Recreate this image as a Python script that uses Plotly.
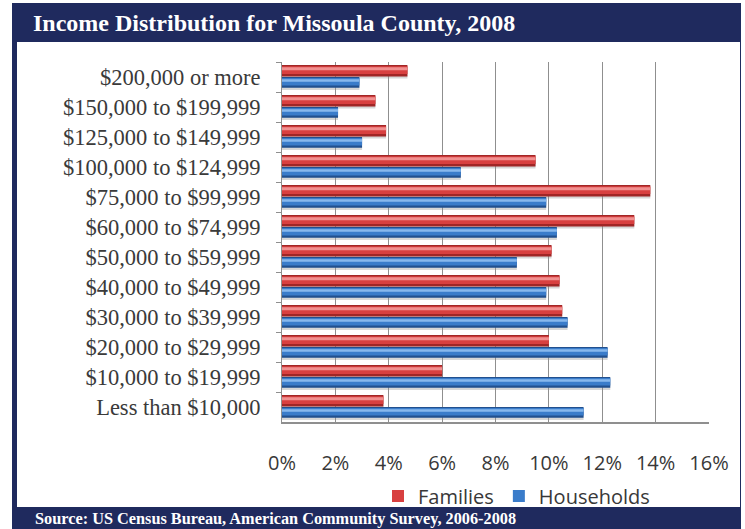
import plotly.graph_objects as go

# Income brackets, listed top to bottom
categories = [
    "$200,000 or more",
    "$150,000 to $199,999",
    "$125,000 to $149,999",
    "$100,000 to $124,999",
    "$75,000 to $99,999",
    "$60,000 to $74,999",
    "$50,000 to $59,999",
    "$40,000 to $49,999",
    "$30,000 to $39,999",
    "$20,000 to $29,999",
    "$10,000 to $19,999",
    "Less than $10,000",
]

# Share of each group in the bracket (percent)
families = [4.7, 3.5, 3.9, 9.5, 13.8, 13.2, 10.1, 10.4, 10.5, 10.0, 6.0, 3.8]
households = [2.9, 2.1, 3.0, 6.7, 9.9, 10.3, 8.8, 9.9, 10.7, 12.2, 12.3, 11.3]

x_ticks = [0, 2, 4, 6, 8, 10, 12, 14, 16]
x_tick_labels = [f"{v}%" for v in x_ticks]

W, H = 745, 529
L, R, T, B = 282, 36, 62, 107
PW, PH = W - L - R, H - T - B


def px_x(p):
    return (p - L) / PW


def px_y(p):
    return (H - B - p) / PH


NAVY = "#1f2a5e"

fig = go.Figure()

# Each bar is a stack of overlaid layers giving a rounded, cylinder look
def add_cylinder(values, name, off, wid, dark, main, light, legend):
    fig.add_trace(go.Bar(
        y=categories, x=values, orientation="h",
        offset=off + 0.07, width=wid,
        marker=dict(color="rgba(140,140,140,0.35)", line=dict(width=0)),
        showlegend=False, hoverinfo="skip",
    ))
    fig.add_trace(go.Bar(
        y=categories, x=values, orientation="h",
        offset=off, width=wid,
        marker=dict(color=dark, line=dict(width=0)),
        showlegend=False, hoverinfo="skip",
    ))
    fig.add_trace(go.Bar(
        y=categories, x=values, orientation="h", name=name,
        offset=off + wid * 0.1, width=wid * 0.68,
        marker=dict(color=main, line=dict(width=0)),
        showlegend=legend,
    ))
    fig.add_trace(go.Bar(
        y=categories, x=values, orientation="h",
        offset=off + wid * 0.2, width=wid * 0.25,
        marker=dict(color=light, line=dict(width=0)),
        showlegend=False, hoverinfo="skip",
    ))


add_cylinder(families, "Families", -0.40, 0.38,
             "#a02626", "#d84040", "#f09090", True)
add_cylinder(households, "Households", 0.0, 0.36,
             "#22508e", "#3a7cca", "#88b8ec", True)

shapes = [
    # navy frame with title and source bars
    dict(type="rect", xref="paper", yref="paper", layer="below",
         x0=px_x(12), x1=px_x(741), y0=px_y(3), y1=px_y(540),
         fillcolor=NAVY, line=dict(width=0)),
    # white chart panel
    dict(type="rect", xref="paper", yref="paper", layer="below",
         x0=px_x(17), x1=px_x(740), y0=px_y(42), y1=px_y(507),
         fillcolor="white", line=dict(width=0)),
]

annotations = [
    dict(text="Income Distribution for Missoula County, 2008",
         xref="paper", yref="paper", x=px_x(31), y=px_y(23),
         xanchor="left", yanchor="middle", showarrow=False,
         font=dict(family="Liberation Serif", size=24, color="white",
                   weight="bold")),
    dict(text="Source: US Census Bureau, American Community Survey, 2006-2008",
         xref="paper", yref="paper", x=px_x(33), y=px_y(518),
         xanchor="left", yanchor="middle", showarrow=False,
         font=dict(family="Liberation Serif", size=16.3, color="white",
                   weight="bold")),
]

fig.update_layout(
    width=W, height=H,
    margin=dict(l=L, r=R, t=T, b=B),
    paper_bgcolor="white",
    plot_bgcolor="white",
    barmode="overlay",
    hovermode=False,
    shapes=shapes,
    annotations=annotations,
    legend=dict(
        orientation="h", x=px_x(378), y=px_y(496),
        xanchor="left", yanchor="middle",
        font=dict(family="Open Sans", size=20, color="#383838"),
        bgcolor="rgba(0,0,0,0)", itemwidth=30,
    ),
    xaxis=dict(
        range=[0, 16], tickvals=x_ticks, ticktext=x_tick_labels,
        showgrid=True, gridcolor="#8f8f8f", gridwidth=1,
        zeroline=False, showline=True, linecolor="#8f8f8f", linewidth=2,
        ticks="", ticklabelstandoff=22,
        tickfont=dict(family="Open Sans", size=20, color="#383838"),
        fixedrange=True,
    ),
    yaxis=dict(
        categoryorder="array", categoryarray=categories,
        autorange="reversed", showgrid=False, zeroline=False,
        showline=True, linecolor="#8f8f8f", linewidth=1,
        ticks="outside", tickson="boundaries", ticklen=5,
        tickcolor="#8f8f8f", ticklabelstandoff=16,
        tickfont=dict(family="Liberation Serif", size=22.5, color="#3a3a3a"),
        fixedrange=True,
    ),
)

fig.write_html("out.html")
